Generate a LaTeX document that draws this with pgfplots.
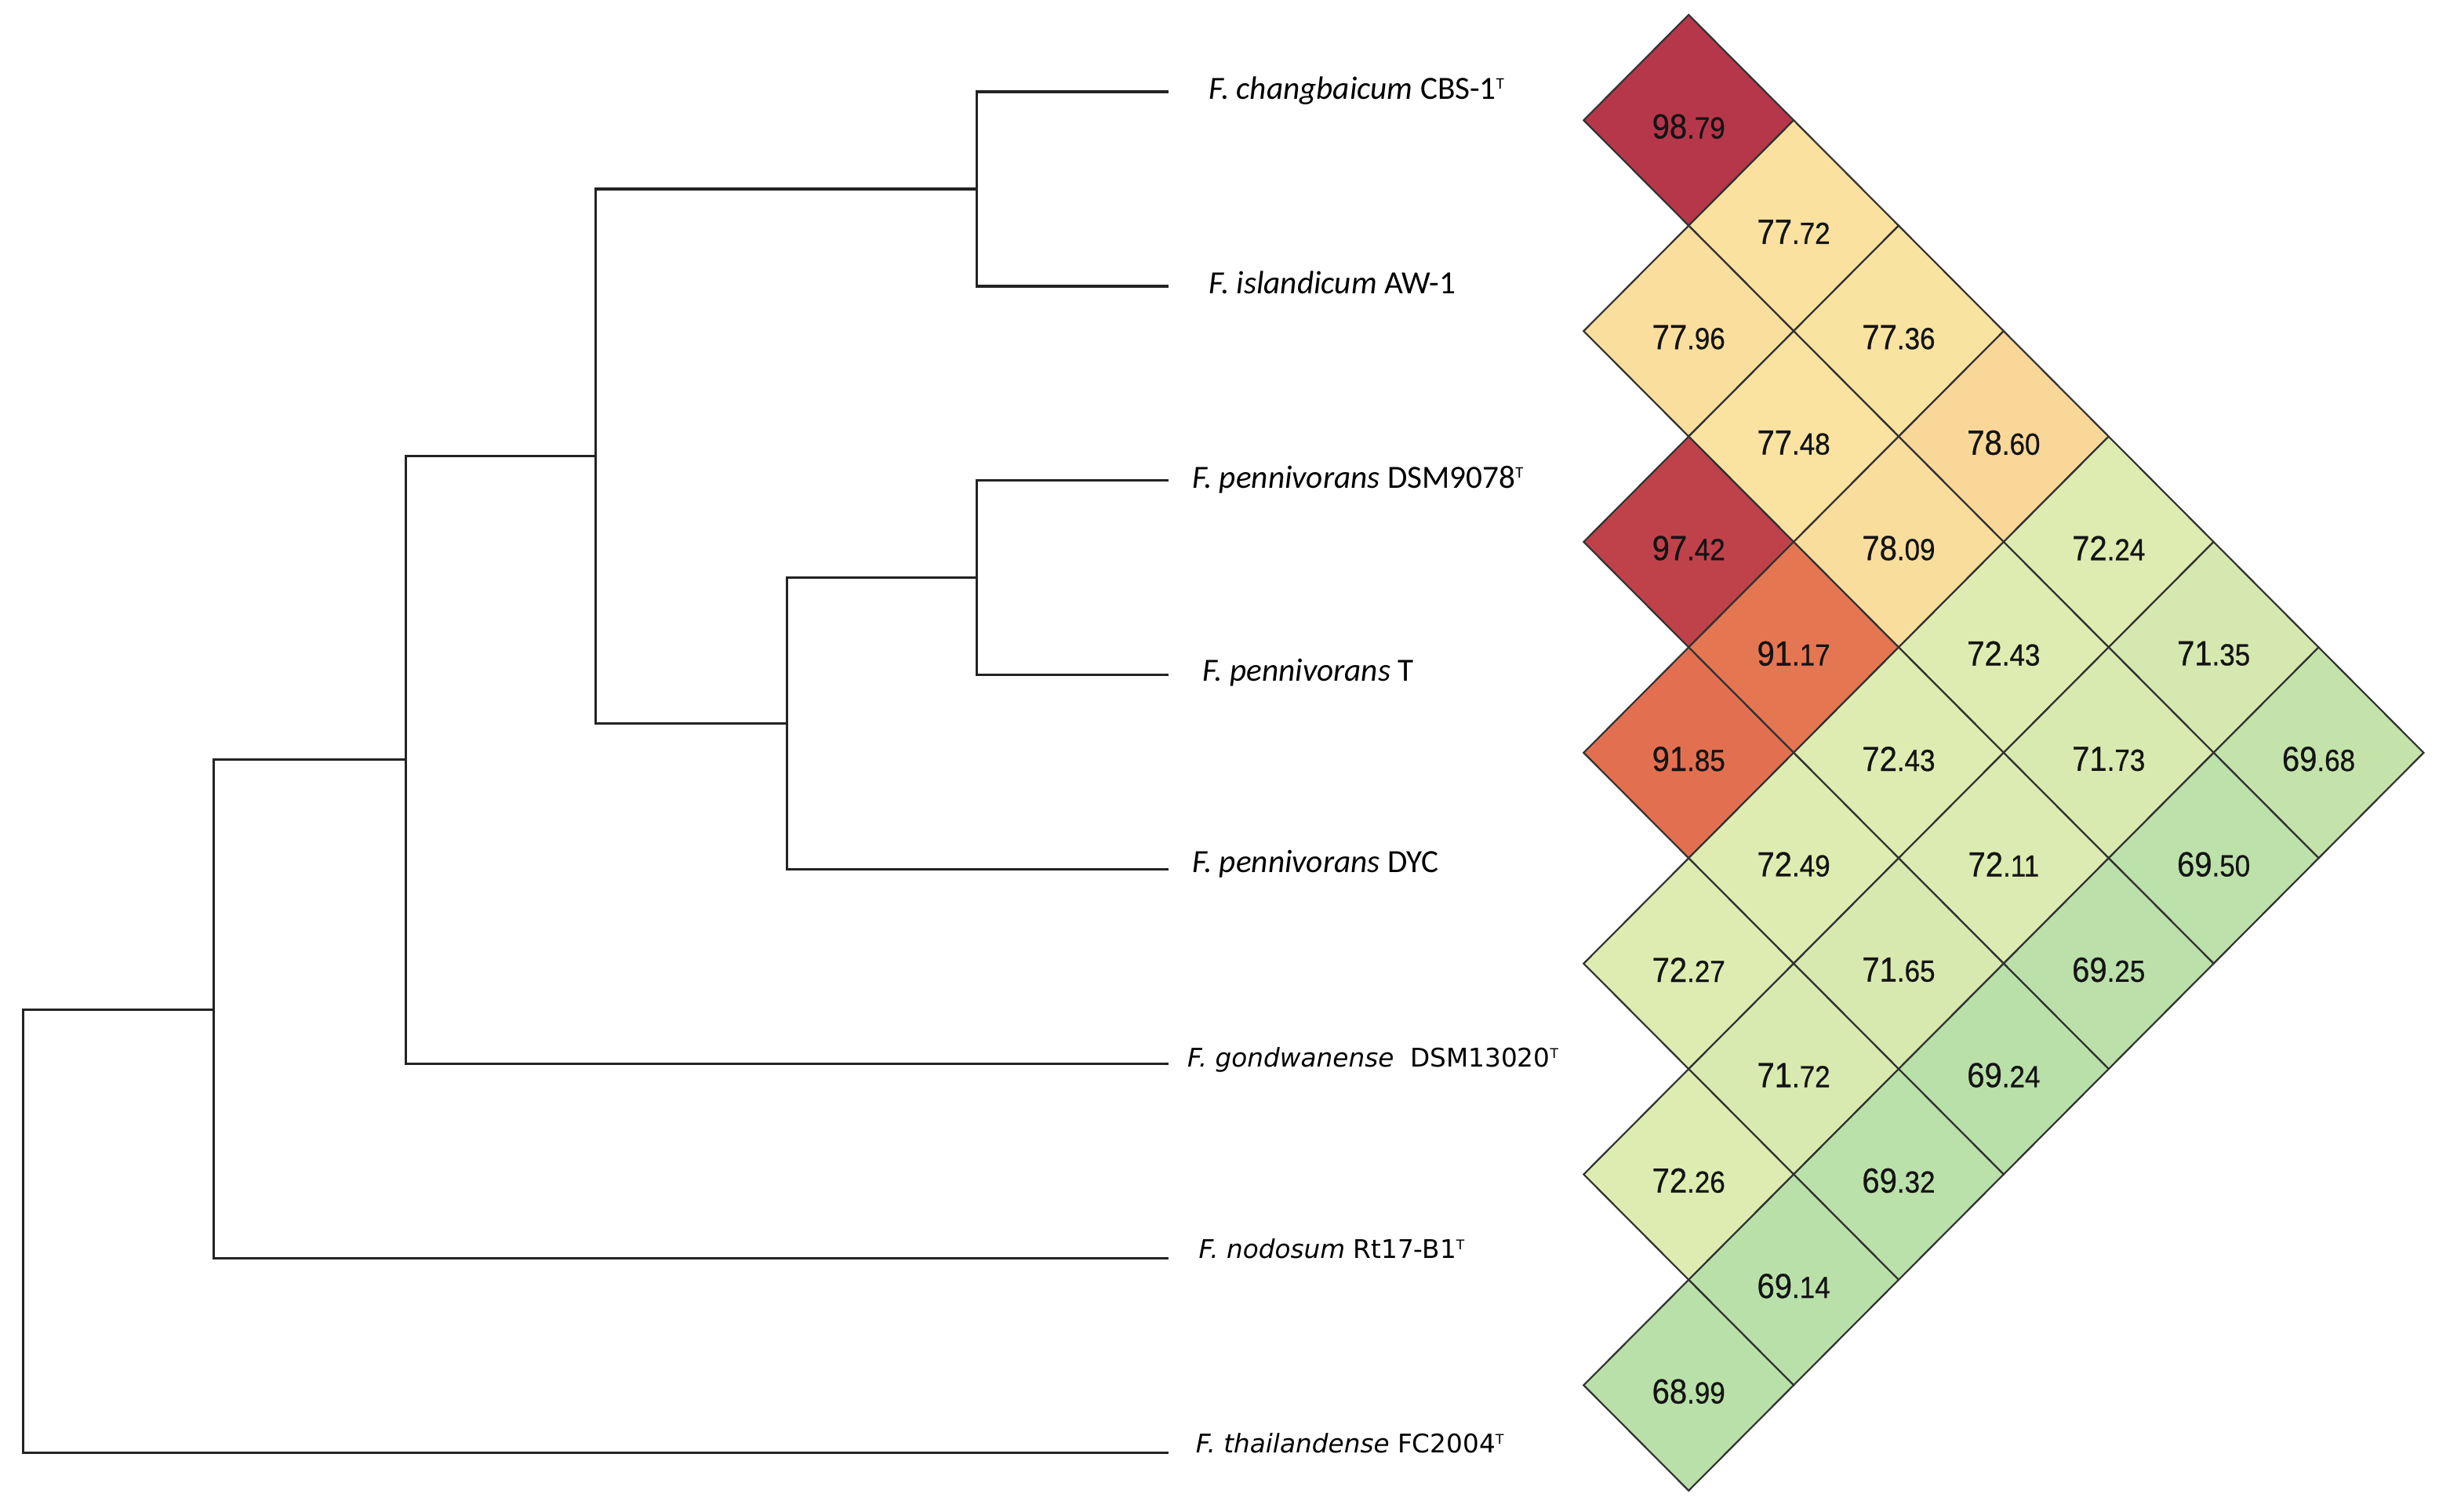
\documentclass[border=0pt]{standalone}
\usepackage{pgfplots}
\pgfplotsset{compat=1.18}
\usepackage{pgfplotstable}
\usepackage{fontspec}
\setmainfont{Carlito}
\newfontfamily\dvs{DejaVu Sans}
\newfontfamily\numf[FakeStretch=0.9,FakeBold=0.6]{Liberation Sans}
\definecolor{cellborder}{RGB}{50,50,50}
\definecolor{treecol}{RGB}{35,35,35}
\definecolor{numcol}{RGB}{20,20,20}

% diamond cell: half-width 67.5 units, half-height 67.77 units (1 unit = 0.5pt)
\pgfdeclareplotmark{cell}{%
  \pgfpathmoveto{\pgfqpoint{0pt}{33.885pt}}%
  \pgfpathlineto{\pgfqpoint{33.75pt}{0pt}}%
  \pgfpathlineto{\pgfqpoint{0pt}{-33.885pt}}%
  \pgfpathlineto{\pgfqpoint{-33.75pt}{0pt}}%
  \pgfpathclose
  \pgfusepathqfillstroke
}

\pgfplotstableread{
x y v
1085.6 77.30 98.79
1153.1 145.07 77.72
1085.6 212.84 77.96
1220.6 212.84 77.36
1153.1 280.61 77.48
1288.1 280.61 78.60
1085.6 348.38 97.42
1220.6 348.38 78.09
1355.6 348.38 72.24
1153.1 416.15 91.17
1288.1 416.15 72.43
1423.1 416.15 71.35
1085.6 483.92 91.85
1220.6 483.92 72.43
1355.6 483.92 71.73
1490.6 483.92 69.68
1153.1 551.69 72.49
1288.1 551.69 72.11
1423.1 551.69 69.50
1085.6 619.46 72.27
1220.6 619.46 71.65
1355.6 619.46 69.25
1153.1 687.23 71.72
1288.1 687.23 69.24
1085.6 755.00 72.26
1220.6 755.00 69.32
1153.1 822.77 69.14
1085.6 890.54 68.99
}\cells

\newcommand{\supT}[2]{\raisebox{#1}{\fontsize{#2}{#2}\selectfont T}}
\def\splitnum#1.#2\relax{#1{\fontsize{9.8}{11}\selectfont.#2}}

\begin{document}
\begin{tikzpicture}
\begin{axis}[
  scale only axis,
  width=784pt, height=486pt,
  xmin=0, xmax=1568, ymin=0, ymax=972,
  y dir=reverse,
  enlargelimits=false,
  axis lines=box,
  axis line style={draw=none},
  xtick=\empty, ytick=\empty,
  clip=false,
  colormap={ani}{
    rgb255(0pt)=(185,224,169);
    rgb255(5.1pt)=(188,225,170);
    rgb255(6.9pt)=(195,227,171);
    rgb255(25.1pt)=(215,233,176);
    rgb255(34.1pt)=(223,236,177);
    rgb255(85.1pt)=(250,227,161);
    rgb255(96.1pt)=(249,215,153);
    rgb255(225.1pt)=(228,115,80);
    rgb255(298pt)=(183,55,74)
  },
  point meta min=68.99, point meta max=98.79,
]
% dendrogram
\addplot[treecol, line width=0.8pt, mark=none, unbounded coords=jump] coordinates {
(751,59) (628,59) (628,184) (751,184)
(nan,nan)
(628,121.5) (383,121.5) (383,465) (506,465)
(nan,nan)
(751,309) (628,309) (628,434) (751,434)
(nan,nan)
(628,371.5) (506,371.5) (506,559) (751,559)
(nan,nan)
(383,293) (261,293) (261,684) (751,684)
(nan,nan)
(261,488.5) (137.5,488.5) (137.5,809) (751,809)
(nan,nan)
(137.5,649) (15,649) (15,934) (751,934)
};

% heatmap cells
\addplot[scatter, only marks, mark=cell,
  point meta=\thisrow{v},
  mark options={line width=0.55pt},
  scatter/use mapped color={draw=cellborder, fill=mapped color},
] table[x=x, y=y] {\cells};

% cell values
\addplot[draw=none, mark=none,
  point meta=explicit symbolic,
  nodes near coords={\numf\fontsize{11.2}{13}\selectfont\expandafter\splitnum\pgfplotspointmeta\relax},
  nodes near coords style={anchor=center, yshift=-2pt, text=numcol, inner sep=0pt},
] table[x=x, y=y, meta=v] {\cells};

% taxon labels
\node[anchor=base west, inner sep=0pt, font=\fontsize{10.4}{12}\selectfont] at (axis cs:777,64) {\textit{F. changbaicum} CBS-1\supT{3.3pt}{5.2}};
\node[anchor=base west, inner sep=0pt, font=\fontsize{10.4}{12}\selectfont] at (axis cs:777,189) {\textit{F. islandicum} AW-1};
\node[anchor=base west, inner sep=0pt, font=\fontsize{10.4}{12}\selectfont] at (axis cs:766,314) {\textit{F. pennivorans} DSM9078\supT{3.3pt}{5.2}};
\node[anchor=base west, inner sep=0pt, font=\fontsize{10.4}{12}\selectfont] at (axis cs:772.7,438) {\textit{F. pennivorans} T};
\node[anchor=base west, inner sep=0pt, font=\fontsize{10.4}{12}\selectfont] at (axis cs:766,561) {\textit{F. pennivorans} DYC};
\node[anchor=base west, inner sep=0pt, font=\dvs\fontsize{8.25}{10}\selectfont] at (axis cs:763,686) {\textit{F. gondwanense}\ \ DSM13020\supT{2.9pt}{4.3}};
\node[anchor=base west, inner sep=0pt, font=\dvs\fontsize{8.25}{10}\selectfont] at (axis cs:770.3,809) {\textit{F. nodosum} Rt17-B1\supT{2.9pt}{4.3}};
\node[anchor=base west, inner sep=0pt, font=\dvs\fontsize{8.25}{10}\selectfont] at (axis cs:768.4,934) {\textit{F. thailandense} FC2004\supT{2.9pt}{4.3}};
\end{axis}
\end{tikzpicture}
\end{document}
